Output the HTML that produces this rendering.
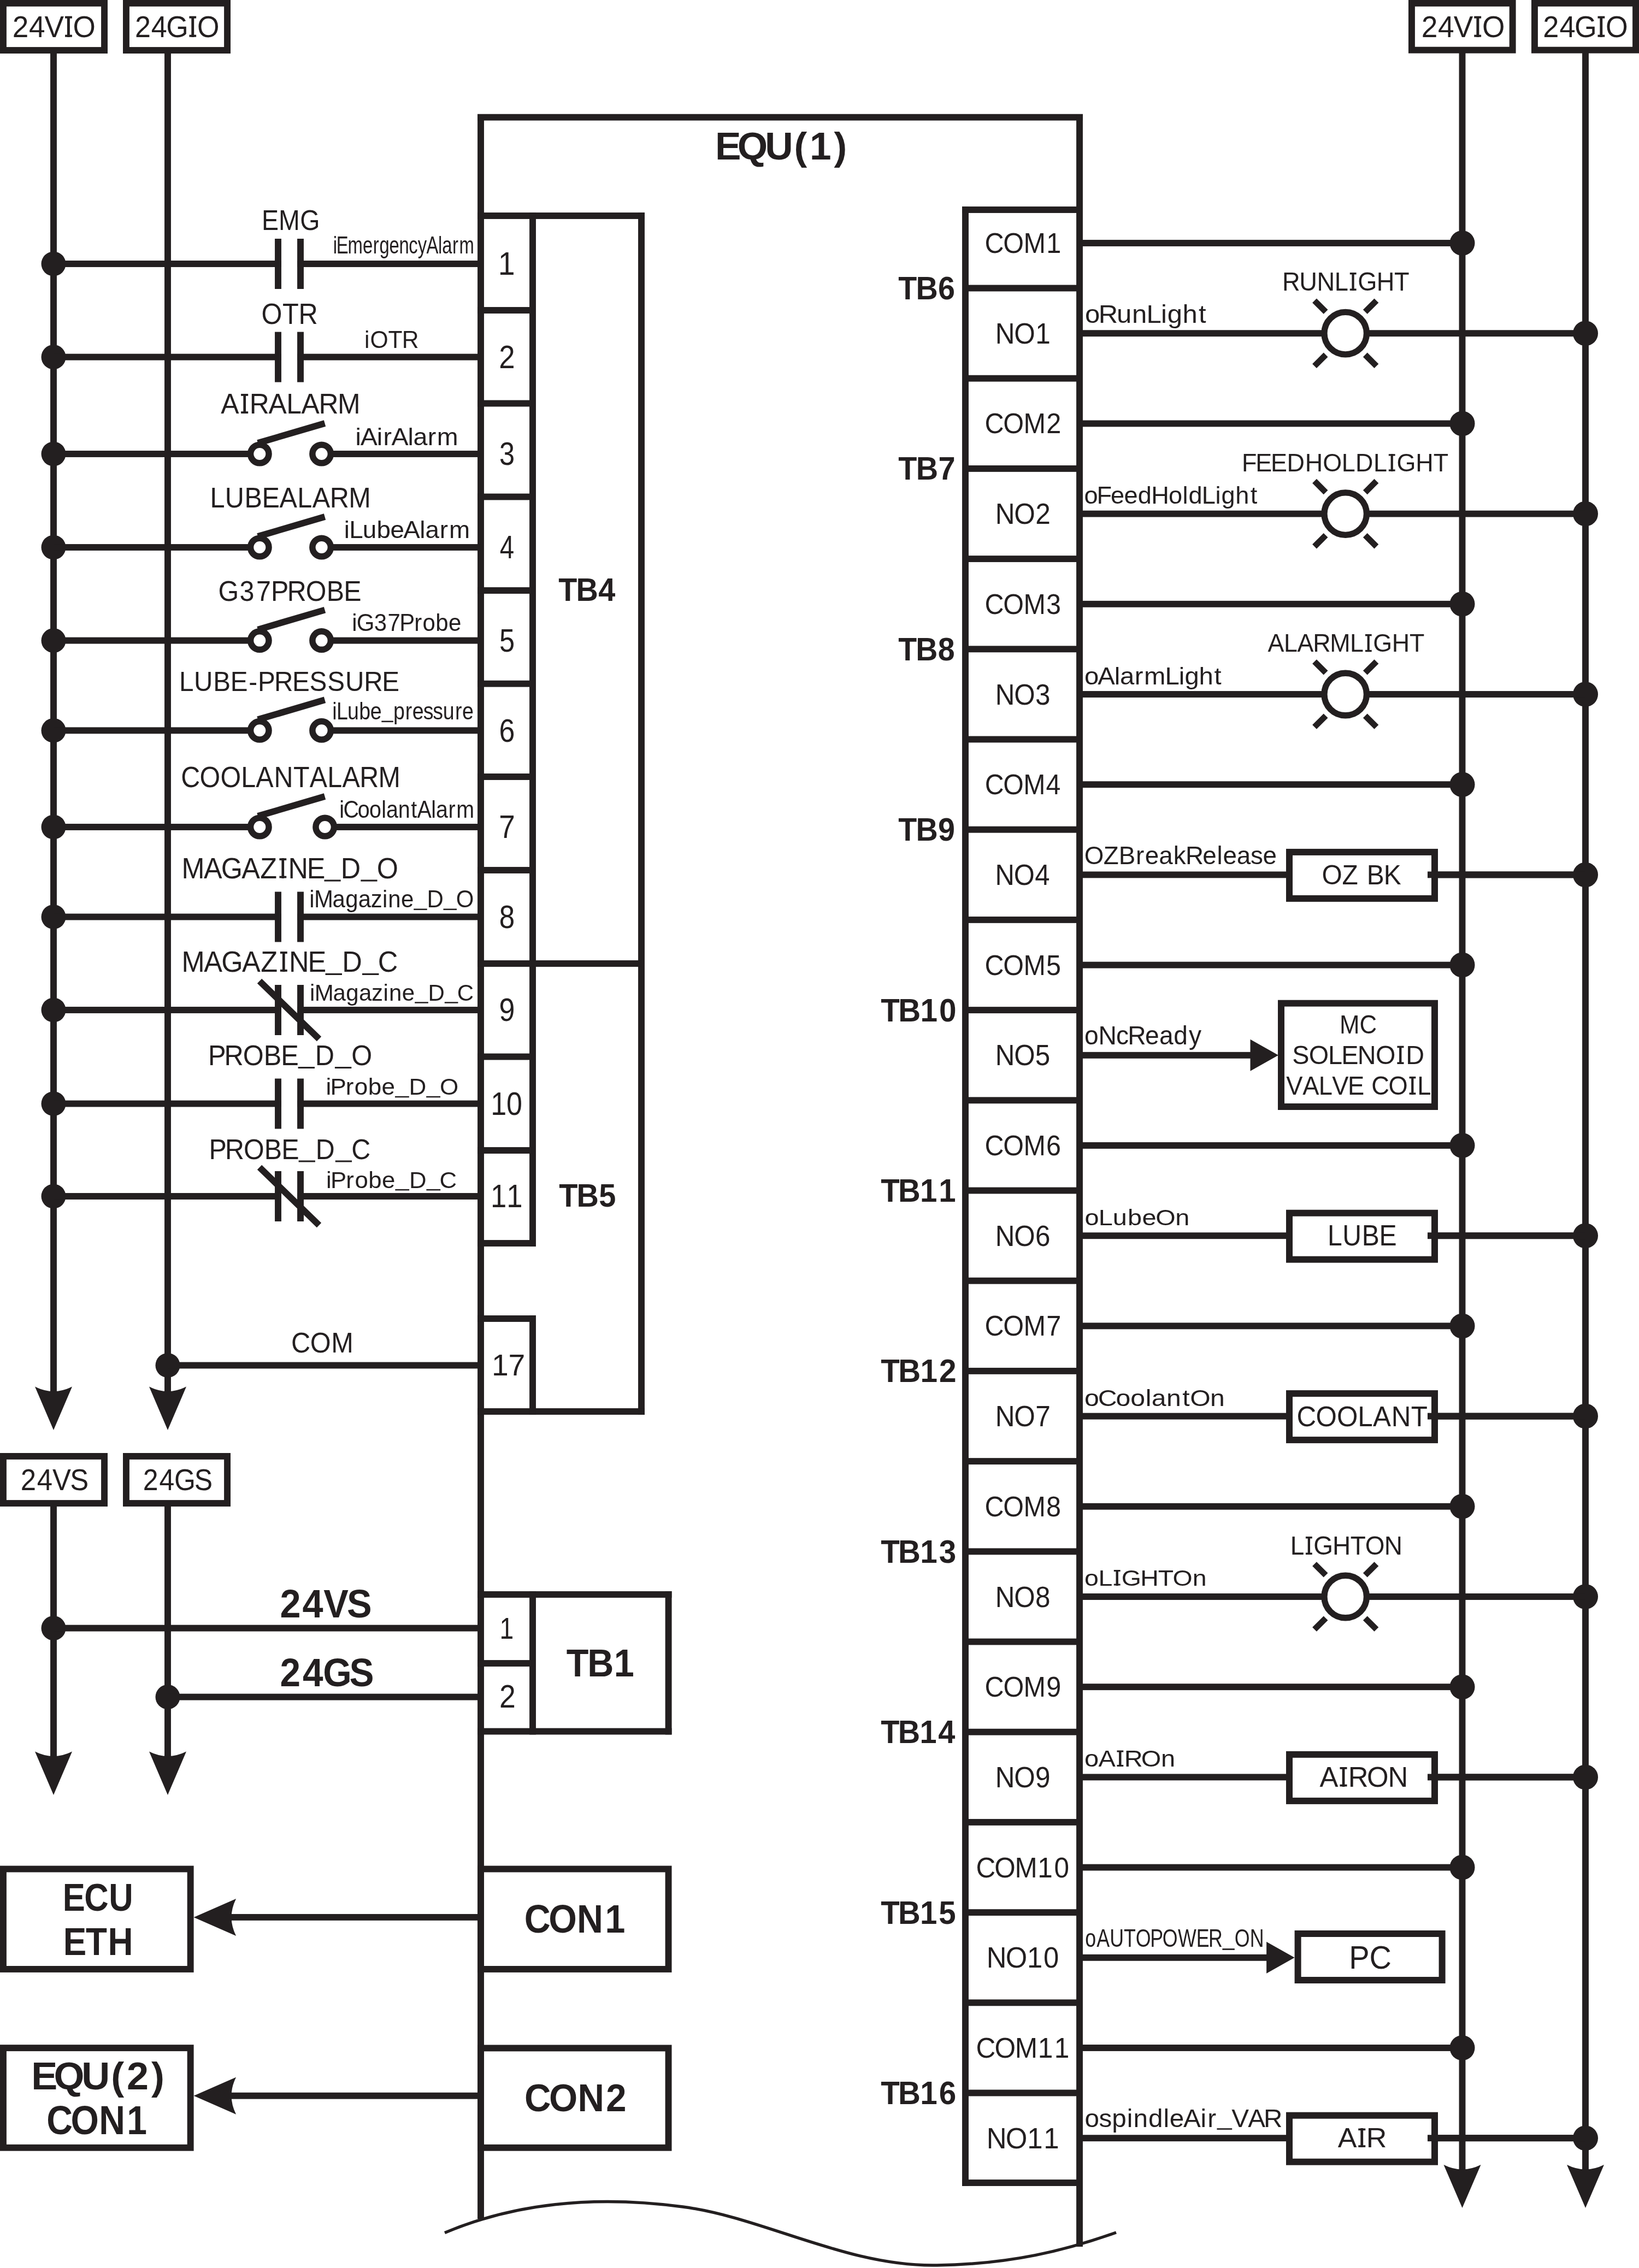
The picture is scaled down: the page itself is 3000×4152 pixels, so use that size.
<!DOCTYPE html>
<html><head><meta charset="utf-8"><style>
html,body{margin:0;padding:0;background:#fff;}
svg{display:block;will-change:transform;}
text{font-family:"Liberation Sans",sans-serif;fill:#231f20;-webkit-font-smoothing:antialiased;}
</style></head><body>
<svg width="3000" height="4152" viewBox="0 0 3000 4152" fill="#231f20">
<rect width="3000" height="4152" fill="#fff"/>
<rect x="5.95" y="5.95" width="185.10" height="86.10" fill="none" stroke="#231f20" stroke-width="11.9"/>
<rect x="230.95" y="5.95" width="185.10" height="86.10" fill="none" stroke="#231f20" stroke-width="11.9"/>
<text transform="translate(0,67.70) scale(0.9601,1)" x="23.58 55.14 84.82 123.01 139.14" font-size="55.38">24VIO</text>
<rect x="119.05" y="63.66" width="12.86" height="4.04"/>
<rect x="119.05" y="29.60" width="12.86" height="4.04"/>
<text transform="translate(0,67.70) scale(0.9403,1)" x="262.58 294.46 323.68 367.49 383.92" font-size="55.38">24GIO</text>
<rect x="346.41" y="63.66" width="12.72" height="4.04"/>
<rect x="346.41" y="29.60" width="12.72" height="4.04"/>
<rect x="92.05" y="98.00" width="11.90" height="2482.00"/>
<rect x="301.05" y="98.00" width="11.90" height="2482.00"/>
<path d="M98.00,2618.00 L64.00,2538.60 Q98.00,2555.60 132.00,2538.60 Z"/>
<path d="M307.00,2618.00 L273.00,2538.60 Q307.00,2555.60 341.00,2538.60 Z"/>
<rect x="874.05" y="209.00" width="11.90" height="3853.00"/>
<rect x="874.00" y="208.75" width="1108.00" height="11.90"/>
<rect x="1970.05" y="209.00" width="11.90" height="3904.00"/>
<text transform="translate(0,291.80) scale(1.0042,1)" x="1303.55 1344.11 1394.31 1447.44 1475.91 1520.22" font-size="70.93" font-weight="bold">EQU(1)</text>
<rect x="874.00" y="389.05" width="305.95" height="11.90"/>
<rect x="1168.05" y="389.00" width="11.90" height="2201.00"/>
<rect x="874.00" y="2578.05" width="305.95" height="11.90"/>
<rect x="969.05" y="389.00" width="11.90" height="1893.00"/>
<rect x="969.05" y="2408.00" width="11.90" height="182.00"/>
<rect x="874.00" y="562.05" width="101.00" height="11.90"/>
<rect x="874.00" y="732.55" width="101.00" height="11.90"/>
<rect x="874.00" y="903.55" width="101.00" height="11.90"/>
<rect x="874.00" y="1075.05" width="101.00" height="11.90"/>
<rect x="874.00" y="1245.75" width="101.00" height="11.90"/>
<rect x="874.00" y="1416.05" width="101.00" height="11.90"/>
<rect x="874.00" y="1587.05" width="101.00" height="11.90"/>
<rect x="874.00" y="1928.55" width="101.00" height="11.90"/>
<rect x="874.00" y="2100.05" width="101.00" height="11.90"/>
<rect x="874.00" y="2270.05" width="101.00" height="11.90"/>
<rect x="874.00" y="2408.05" width="101.00" height="11.90"/>
<rect x="874.00" y="1758.05" width="300.00" height="11.90"/>
<text transform="translate(0,1099.90) scale(0.9390,1)" x="1088.66 1122.98 1166.29" font-size="59.45" font-weight="bold">TB4</text>
<text transform="translate(0,2209.00) scale(0.9390,1)" x="1089.64 1124.04 1167.47" font-size="59.59" font-weight="bold">TB5</text>
<circle cx="98.00" cy="483.00" r="22.5"/>
<rect x="98.00" y="477.05" width="417.00" height="11.90"/>
<rect x="544.00" y="477.05" width="336.00" height="11.90"/>
<rect x="503.05" y="437.00" width="11.90" height="92.00"/>
<rect x="544.05" y="437.00" width="11.90" height="92.00"/>
<text transform="translate(0,421.00) scale(0.8866,1)" x="540.33 575.15 619.57" font-size="52.47">EMG</text>
<text transform="translate(0,463.80) scale(0.7333,1)" x="831.45 839.62 868.03 905.63 931.09 947.11 971.51 996.10 1020.46 1042.73 1064.53 1093.66 1103.69 1129.26 1146.09" font-size="44.77">iEmergencyAlarm</text>
<text transform="translate(0,503.30) scale(0.9403,1)" x="969.68" font-size="59.01">1</text>
<circle cx="98.00" cy="653.60" r="22.5"/>
<rect x="98.00" y="647.65" width="417.00" height="11.90"/>
<rect x="544.00" y="647.65" width="336.00" height="11.90"/>
<rect x="503.05" y="607.60" width="11.90" height="92.00"/>
<rect x="544.05" y="607.60" width="11.90" height="92.00"/>
<text transform="translate(0,592.50) scale(0.8952,1)" x="534.48 577.50 610.41" font-size="54.51">OTR</text>
<text transform="translate(0,636.80) scale(0.9534,1)" x="699.71 710.63 745.26 771.63" font-size="44.77">iOTR</text>
<text transform="translate(0,673.90) scale(0.8938,1)" x="1021.84" font-size="59.01">2</text>
<circle cx="98.00" cy="831.00" r="22.5"/>
<rect x="98.00" y="825.05" width="357.00" height="11.90"/>
<rect x="606.60" y="825.05" width="273.40" height="11.90"/>
<circle cx="475.30" cy="831.00" r="16.75" fill="none" stroke="#231f20" stroke-width="11.5"/>
<circle cx="588.60" cy="831.00" r="16.75" fill="none" stroke="#231f20" stroke-width="11.5"/>
<line x1="472.00" y1="811.00" x2="594.50" y2="775.00" stroke="#231f20" stroke-width="11.9"/>
<text transform="translate(0,757.00) scale(0.9527,1)" x="424.36 462.63 479.36 515.85 550.29 578.93 612.53 648.72" font-size="52.33">AIRALARM</text>
<rect x="441.11" y="753.18" width="13.07" height="3.82"/>
<rect x="441.11" y="721.00" width="13.07" height="3.82"/>
<text transform="translate(0,815.00) scale(1.0344,1)" x="628.92 637.85 666.83 678.20 692.66 721.64 731.42 756.79 773.23" font-size="45.06">iAirAlarm</text>
<text transform="translate(0,851.30) scale(0.8562,1)" x="1067.62" font-size="59.01">3</text>
<circle cx="98.00" cy="1002.00" r="22.5"/>
<rect x="98.00" y="996.05" width="357.00" height="11.90"/>
<rect x="606.60" y="996.05" width="273.40" height="11.90"/>
<circle cx="475.30" cy="1002.00" r="16.75" fill="none" stroke="#231f20" stroke-width="11.5"/>
<circle cx="588.60" cy="1002.00" r="16.75" fill="none" stroke="#231f20" stroke-width="11.5"/>
<line x1="472.00" y1="982.00" x2="594.50" y2="946.00" stroke="#231f20" stroke-width="11.9"/>
<text transform="translate(0,929.20) scale(0.9238,1)" x="416.32 445.80 484.48 519.08 553.63 589.13 618.80 653.55 691.02" font-size="52.62">LUBEALARM</text>
<text transform="translate(0,985.00) scale(1.0167,1)" x="619.53 628.79 652.83 678.20 702.82 726.18 755.55 765.70 791.49 808.50" font-size="45.06">iLubeAlarm</text>
<text transform="translate(0,1022.30) scale(0.8053,1)" x="1136.07" font-size="59.01">4</text>
<circle cx="98.00" cy="1172.60" r="22.5"/>
<rect x="98.00" y="1166.65" width="357.00" height="11.90"/>
<rect x="606.60" y="1166.65" width="273.40" height="11.90"/>
<circle cx="475.30" cy="1172.60" r="16.75" fill="none" stroke="#231f20" stroke-width="11.5"/>
<circle cx="588.60" cy="1172.60" r="16.75" fill="none" stroke="#231f20" stroke-width="11.5"/>
<line x1="472.00" y1="1152.60" x2="594.50" y2="1116.60" stroke="#231f20" stroke-width="11.9"/>
<text transform="translate(0,1100.00) scale(0.9401,1)" x="424.85 466.46 498.83 527.51 559.13 595.41 635.75 669.29" font-size="51.45">G37PROBE</text>
<text transform="translate(0,1155.40) scale(0.9500,1)" x="678.05 687.17 720.86 746.81 769.64 798.04 814.20 839.30 864.17" font-size="44.19">iG37Probe</text>
<text transform="translate(0,1192.90) scale(0.8562,1)" x="1067.47" font-size="59.01">5</text>
<circle cx="98.00" cy="1337.30" r="22.5"/>
<rect x="98.00" y="1331.35" width="357.00" height="11.90"/>
<rect x="606.60" y="1331.35" width="273.40" height="11.90"/>
<circle cx="475.30" cy="1337.30" r="16.75" fill="none" stroke="#231f20" stroke-width="11.5"/>
<circle cx="588.60" cy="1337.30" r="16.75" fill="none" stroke="#231f20" stroke-width="11.5"/>
<line x1="472.00" y1="1317.30" x2="594.50" y2="1281.30" stroke="#231f20" stroke-width="11.9"/>
<text transform="translate(0,1265.00) scale(0.9362,1)" x="350.43 379.20 416.89 450.63 486.33 504.29 536.11 571.48 605.16 640.17 675.01 711.53 746.89" font-size="50.87">LUBE-PRESSURE</text>
<text transform="translate(0,1317.00) scale(0.8467,1)" x="718.30 727.46 751.19 776.24 800.55 825.11 850.22 876.10 891.55 915.07 935.85 957.62 983.70 999.15" font-size="44.33">iLube pressure</text>
<rect x="698.31" y="1319.52" width="21.48" height="2.60"/>
<text transform="translate(0,1357.60) scale(0.8794,1)" x="1038.73" font-size="59.01">6</text>
<circle cx="98.00" cy="1514.00" r="22.5"/>
<rect x="98.00" y="1508.05" width="357.00" height="11.90"/>
<rect x="612.70" y="1508.05" width="267.30" height="11.90"/>
<circle cx="475.30" cy="1514.00" r="16.75" fill="none" stroke="#231f20" stroke-width="11.5"/>
<circle cx="594.70" cy="1514.00" r="16.75" fill="none" stroke="#231f20" stroke-width="11.5"/>
<line x1="472.00" y1="1494.00" x2="594.50" y2="1458.00" stroke="#231f20" stroke-width="11.9"/>
<text transform="translate(0,1441.00) scale(0.9082,1)" x="364.74 402.58 444.25 485.75 515.66 552.10 591.19 624.11 659.92 689.83 724.87 762.64" font-size="53.34">COOLANTALARM</text>
<text transform="translate(0,1496.50) scale(0.8730,1)" x="711.69 719.96 750.00 774.46 799.75 809.83 834.69 861.66 874.58 903.93 914.01 939.76 956.66" font-size="45.20">iCoolantAlarm</text>
<text transform="translate(0,1534.30) scale(0.8988,1)" x="1016.06" font-size="59.01">7</text>
<circle cx="98.00" cy="1678.50" r="22.5"/>
<rect x="98.00" y="1672.55" width="417.00" height="11.90"/>
<rect x="544.00" y="1672.55" width="336.00" height="11.90"/>
<rect x="503.05" y="1632.50" width="11.90" height="92.00"/>
<rect x="544.05" y="1632.50" width="11.90" height="92.00"/>
<text transform="translate(0,1607.50) scale(0.9544,1)" x="348.33 390.73 424.13 463.38 498.95 535.27 552.65 588.47 622.96 653.61 693.02 722.60" font-size="52.76">MAGAZINE D O</text>
<rect x="593.43" y="1610.50" width="30.22" height="3.10"/>
<rect x="660.30" y="1610.50" width="30.22" height="3.10"/>
<rect x="511.42" y="1603.65" width="12.83" height="3.85"/>
<rect x="511.42" y="1571.20" width="12.83" height="3.85"/>
<text transform="translate(0,1661.00) scale(0.9621,1)" x="588.47 597.54 632.52 657.05 681.59 705.38 727.45 738.35 762.98 787.67 812.26 844.08 867.76" font-size="43.60">iMagazine D O</text>
<rect x="757.22" y="1663.48" width="24.53" height="2.56"/>
<rect x="811.49" y="1663.48" width="24.53" height="2.56"/>
<text transform="translate(0,1698.80) scale(0.8653,1)" x="1056.06" font-size="59.01">8</text>
<circle cx="98.00" cy="1849.00" r="22.5"/>
<rect x="98.00" y="1843.05" width="417.00" height="11.90"/>
<rect x="544.00" y="1843.05" width="336.00" height="11.90"/>
<rect x="503.05" y="1803.00" width="11.90" height="92.00"/>
<rect x="544.05" y="1803.00" width="11.90" height="92.00"/>
<line x1="475.00" y1="1796.00" x2="584.00" y2="1902.00" stroke="#231f20" stroke-width="11.9"/>
<text transform="translate(0,1778.80) scale(0.9458,1)" x="351.47 394.59 428.59 468.51 504.69 541.62 559.35 595.78 630.87 662.07 702.15 731.51" font-size="53.49">MAGAZINE D C</text>
<rect x="595.52" y="1781.84" width="30.48" height="3.14"/>
<rect x="662.94" y="1781.84" width="30.48" height="3.14"/>
<rect x="512.82" y="1774.90" width="12.94" height="3.90"/>
<rect x="512.82" y="1742.00" width="12.94" height="3.90"/>
<text transform="translate(0,1831.80) scale(0.9908,1)" x="572.20 581.11 615.26 639.22 663.19 686.43 707.97 718.64 742.71 766.83 790.86 821.93 844.53" font-size="42.44">iMagazine D C</text>
<rect x="759.17" y="1834.21" width="24.68" height="2.49"/>
<rect x="813.76" y="1834.21" width="24.68" height="2.49"/>
<text transform="translate(0,1869.30) scale(0.8794,1)" x="1038.88" font-size="59.01">9</text>
<circle cx="98.00" cy="2020.50" r="22.5"/>
<rect x="98.00" y="2014.55" width="417.00" height="11.90"/>
<rect x="544.00" y="2014.55" width="336.00" height="11.90"/>
<rect x="503.05" y="1974.50" width="11.90" height="92.00"/>
<rect x="544.05" y="1974.50" width="11.90" height="92.00"/>
<text transform="translate(0,1950.10) scale(0.9456,1)" x="402.80 434.22 470.29 510.42 543.77 578.72 610.04 649.93 680.21" font-size="51.60">PROBE D O</text>
<rect x="545.56" y="1953.03" width="30.43" height="3.03"/>
<rect x="612.89" y="1953.03" width="30.43" height="3.03"/>
<text transform="translate(0,2004.30) scale(1.0336,1)" x="577.06 584.83 612.19 627.77 651.95 675.92 700.14 724.27 755.47 778.72" font-size="42.59">iProbe D O</text>
<rect x="722.96" y="2006.72" width="25.85" height="2.50"/>
<rect x="780.15" y="2006.72" width="25.85" height="2.50"/>
<text transform="translate(0,2040.80) scale(0.8824,1)" x="1017.84 1050.66" font-size="59.01">10</text>
<circle cx="98.00" cy="2190.00" r="22.5"/>
<rect x="98.00" y="2184.05" width="417.00" height="11.90"/>
<rect x="544.00" y="2184.05" width="336.00" height="11.90"/>
<rect x="503.05" y="2144.00" width="11.90" height="92.00"/>
<rect x="544.05" y="2144.00" width="11.90" height="92.00"/>
<line x1="475.00" y1="2137.00" x2="584.00" y2="2243.00" stroke="#231f20" stroke-width="11.9"/>
<text transform="translate(0,2121.50) scale(0.9381,1)" x="407.62 439.21 475.47 515.80 549.33 584.44 615.95 656.02 685.67" font-size="51.60">PROBE D C</text>
<rect x="546.58" y="2124.43" width="30.35" height="3.03"/>
<rect x="613.73" y="2124.43" width="30.35" height="3.03"/>
<text transform="translate(0,2174.50) scale(1.0196,1)" x="585.56 593.47 621.12 636.90 661.37 685.62 710.13 734.55 766.10 789.08" font-size="42.88">iProbe D C</text>
<rect x="723.32" y="2176.93" width="25.80" height="2.52"/>
<rect x="780.39" y="2176.93" width="25.80" height="2.52"/>
<text transform="translate(0,2210.30) scale(0.8913,1)" x="1007.60 1040.42" font-size="59.01">11</text>
<circle cx="307.00" cy="2499.50" r="22.5"/>
<rect x="307.00" y="2493.55" width="573.00" height="11.90"/>
<text transform="translate(0,2476.00) scale(0.9307,1)" x="572.68 610.16 651.45" font-size="52.33">COM</text>
<text transform="translate(0,2518.00) scale(1.0006,1)" x="899.34 930.06" font-size="55.23">17</text>
<rect x="5.95" y="2665.95" width="185.10" height="86.10" fill="none" stroke="#231f20" stroke-width="11.9"/>
<rect x="230.95" y="2665.95" width="185.10" height="86.10" fill="none" stroke="#231f20" stroke-width="11.9"/>
<text transform="translate(0,2727.70) scale(0.9145,1)" x="41.29 74.09 105.05 140.34" font-size="55.67">24VS</text>
<text transform="translate(0,2727.70) scale(0.8968,1)" x="291.94 325.09 355.69 396.80" font-size="55.67">24GS</text>
<rect x="92.05" y="2758.00" width="11.90" height="487.00"/>
<rect x="301.05" y="2758.00" width="11.90" height="487.00"/>
<path d="M98.00,3286.00 L64.00,3206.60 Q98.00,3223.60 132.00,3206.60 Z"/>
<path d="M307.00,3286.00 L273.00,3206.60 Q307.00,3223.60 341.00,3206.60 Z"/>
<rect x="874.00" y="2913.05" width="355.50" height="11.90"/>
<rect x="1217.65" y="2913.00" width="11.90" height="262.50"/>
<rect x="874.00" y="3163.65" width="355.50" height="11.90"/>
<rect x="969.05" y="2913.00" width="11.90" height="262.50"/>
<rect x="874.00" y="3039.05" width="101.00" height="11.90"/>
<circle cx="98.00" cy="2980.60" r="22.5"/>
<rect x="98.00" y="2974.65" width="782.00" height="11.90"/>
<circle cx="307.00" cy="3106.60" r="22.5"/>
<rect x="307.00" y="3100.65" width="573.00" height="11.90"/>
<text transform="translate(0,2961.00) scale(0.9570,1)" x="535.43 578.38 618.97 663.49" font-size="71.51" font-weight="bold">24VS</text>
<text transform="translate(0,3087.00) scale(0.9420,1)" x="543.97 588.24 627.68 679.00" font-size="71.66" font-weight="bold">24GS</text>
<text transform="translate(0,3069.00) scale(0.9353,1)" x="1108.59 1149.71 1201.60" font-size="71.22" font-weight="bold">TB1</text>
<text transform="translate(0,2999.60) scale(0.8461,1)" x="1080.82" font-size="54.65">1</text>
<text transform="translate(0,3126.20) scale(0.9043,1)" x="1010.65" font-size="59.30">2</text>
<rect x="5.95" y="3421.55" width="342.70" height="183.40" fill="none" stroke="#231f20" stroke-width="11.9"/>
<rect x="879.95" y="3421.55" width="343.60" height="183.40" fill="none" stroke="#231f20" stroke-width="11.9"/>
<rect x="5.95" y="3749.15" width="342.70" height="182.60" fill="none" stroke="#231f20" stroke-width="11.9"/>
<rect x="879.95" y="3749.45" width="343.60" height="182.30" fill="none" stroke="#231f20" stroke-width="11.9"/>
<path d="M354.60,3509.90 L432.10,3475.90 Q415.10,3509.90 432.10,3543.90 Z"/>
<rect x="420.00" y="3503.95" width="460.00" height="11.90"/>
<path d="M354.60,3836.70 L432.10,3802.70 Q415.10,3836.70 432.10,3870.70 Z"/>
<rect x="420.00" y="3830.75" width="460.00" height="11.90"/>
<text transform="translate(0,3498.00) scale(0.8646,1)" x="132.83 178.54 230.58" font-size="71.22" font-weight="bold">ECU</text>
<text transform="translate(0,3578.60) scale(0.9025,1)" x="128.19 173.96 218.76" font-size="70.64" font-weight="bold">ETH</text>
<text transform="translate(0,3538.10) scale(0.9108,1)" x="1053.84 1102.65 1159.49 1215.86" font-size="72.82" font-weight="bold">CON1</text>
<text transform="translate(0,3825.00) scale(1.0096,1)" x="56.80 97.52 147.93 201.27 229.87 274.35" font-size="71.22" font-weight="bold">EQU(2)</text>
<text transform="translate(0,3906.70) scale(0.9006,1)" x="94.67 143.87 201.16 257.98" font-size="73.40" font-weight="bold">CON1</text>
<text transform="translate(0,3865.00) scale(0.9457,1)" x="1015.18 1062.72 1118.09 1172.99" font-size="70.93" font-weight="bold">CON2</text>
<path d="M814,4087.5 C950,4030 1100,4020 1250,4040 C1400,4060 1550,4150 1715,4147 C1850,4145 1950,4120 2043,4087" fill="none" stroke="#231f20" stroke-width="5.5"/>
<rect x="2583.95" y="5.95" width="184.70" height="85.70" fill="none" stroke="#231f20" stroke-width="11.9"/>
<rect x="2808.95" y="5.95" width="185.10" height="85.70" fill="none" stroke="#231f20" stroke-width="11.9"/>
<text transform="translate(0,67.70) scale(0.9621,1)" x="2704.23 2735.79 2765.47 2803.66 2819.79" font-size="55.38">24VIO</text>
<rect x="2698.24" y="63.66" width="12.89" height="4.04"/>
<rect x="2698.24" y="29.60" width="12.89" height="4.04"/>
<text transform="translate(0,67.70) scale(0.9459,1)" x="2985.82 3017.70 3046.92 3090.73 3107.16" font-size="55.38">24GIO</text>
<rect x="2924.49" y="63.66" width="12.80" height="4.04"/>
<rect x="2924.49" y="29.60" width="12.80" height="4.04"/>
<rect x="2670.55" y="97.00" width="11.90" height="3903.00"/>
<rect x="2896.05" y="97.00" width="11.90" height="3903.00"/>
<path d="M2676.50,4042.00 L2642.50,3963.00 Q2676.50,3980.00 2710.50,3963.00 Z"/>
<path d="M2902.00,4042.00 L2868.00,3963.00 Q2902.00,3980.00 2936.00,3963.00 Z"/>
<rect x="1761.05" y="378.05" width="214.95" height="11.90"/>
<rect x="1761.05" y="378.00" width="11.90" height="3624.00"/>
<rect x="1761.05" y="3990.05" width="214.95" height="11.90"/>
<rect x="1767.00" y="521.55" width="209.00" height="11.90"/>
<rect x="1767.00" y="686.75" width="209.00" height="11.90"/>
<rect x="1767.00" y="851.95" width="209.00" height="11.90"/>
<rect x="1767.00" y="1017.15" width="209.00" height="11.90"/>
<rect x="1767.00" y="1182.35" width="209.00" height="11.90"/>
<rect x="1767.00" y="1347.55" width="209.00" height="11.90"/>
<rect x="1767.00" y="1512.75" width="209.00" height="11.90"/>
<rect x="1767.00" y="1677.95" width="209.00" height="11.90"/>
<rect x="1767.00" y="1843.15" width="209.00" height="11.90"/>
<rect x="1767.00" y="2008.35" width="209.00" height="11.90"/>
<rect x="1767.00" y="2173.55" width="209.00" height="11.90"/>
<rect x="1767.00" y="2338.75" width="209.00" height="11.90"/>
<rect x="1767.00" y="2503.95" width="209.00" height="11.90"/>
<rect x="1767.00" y="2669.15" width="209.00" height="11.90"/>
<rect x="1767.00" y="2834.35" width="209.00" height="11.90"/>
<rect x="1767.00" y="2999.55" width="209.00" height="11.90"/>
<rect x="1767.00" y="3164.75" width="209.00" height="11.90"/>
<rect x="1767.00" y="3329.95" width="209.00" height="11.90"/>
<rect x="1767.00" y="3495.15" width="209.00" height="11.90"/>
<rect x="1767.00" y="3660.35" width="209.00" height="11.90"/>
<rect x="1767.00" y="3825.55" width="209.00" height="11.90"/>
<rect x="1976.00" y="439.05" width="700.50" height="11.90"/>
<circle cx="2676.50" cy="445.00" r="23"/>
<text transform="translate(0,463.00) scale(0.9282,1)" x="1941.99 1978.41 2018.54 2063.50" font-size="52.33">COM1</text>
<text transform="translate(0,628.70) scale(0.9206,1)" x="1978.79 2016.39 2058.59" font-size="53.78">NO1</text>
<text transform="translate(0,548.00) scale(0.9346,1)" x="1759.40 1793.80 1837.23" font-size="59.59" font-weight="bold">TB6</text>
<circle cx="2902.00" cy="610.20" r="23"/>
<text transform="translate(0,590.60) scale(1.0501,1)" x="1891.17 1914.72 1946.57 1973.24 1998.31 2023.60 2034.71 2061.17 2089.29" font-size="46.66">oRunLight</text>
<rect x="1976.00" y="604.25" width="446.70" height="11.90"/>
<rect x="2502.70" y="604.25" width="399.30" height="11.90"/>
<circle cx="2462.70" cy="610.20" r="38.75" fill="none" stroke="#231f20" stroke-width="11.3"/>
<line x1="2406.00" y1="550.30" x2="2426.60" y2="570.90" stroke="#231f20" stroke-width="11"/>
<line x1="2519.40" y1="550.30" x2="2498.80" y2="570.90" stroke="#231f20" stroke-width="11"/>
<line x1="2406.00" y1="670.10" x2="2426.60" y2="649.50" stroke="#231f20" stroke-width="11"/>
<line x1="2519.40" y1="670.10" x2="2498.80" y2="649.50" stroke="#231f20" stroke-width="11"/>
<text transform="translate(0,531.90) scale(0.9457,1)" x="2481.79 2514.73 2548.89 2582.98 2612.21 2627.86 2664.41 2698.62" font-size="47.82">RUNLIGHT</text>
<rect x="2470.79" y="528.41" width="11.79" height="3.49"/>
<rect x="2470.79" y="499.00" width="11.79" height="3.49"/>
<rect x="1976.00" y="769.45" width="700.50" height="11.90"/>
<circle cx="2676.50" cy="775.40" r="23"/>
<text transform="translate(0,793.40) scale(0.9290,1)" x="1940.25 1976.66 2016.79 2061.75" font-size="52.33">COM2</text>
<text transform="translate(0,959.10) scale(0.9218,1)" x="1976.20 2013.79 2055.99" font-size="53.78">NO2</text>
<text transform="translate(0,878.40) scale(0.9385,1)" x="1752.12 1786.52 1829.95" font-size="59.59" font-weight="bold">TB7</text>
<circle cx="2902.00" cy="940.60" r="23"/>
<text transform="translate(0,922.00) scale(1.0111,1)" x="1962.73 1985.59 2010.67 2034.95 2059.78 2084.07 2115.44 2140.84 2151.66 2175.70 2200.08 2210.90 2236.49 2263.62" font-size="44.62">oFeedHoldLight</text>
<rect x="1976.00" y="934.65" width="446.70" height="11.90"/>
<rect x="2502.70" y="934.65" width="399.30" height="11.90"/>
<circle cx="2462.70" cy="940.60" r="38.75" fill="none" stroke="#231f20" stroke-width="11.3"/>
<line x1="2406.00" y1="880.70" x2="2426.60" y2="901.30" stroke="#231f20" stroke-width="11"/>
<line x1="2519.40" y1="880.70" x2="2498.80" y2="901.30" stroke="#231f20" stroke-width="11"/>
<line x1="2406.00" y1="1000.50" x2="2426.60" y2="979.90" stroke="#231f20" stroke-width="11"/>
<line x1="2519.40" y1="1000.50" x2="2498.80" y2="979.90" stroke="#231f20" stroke-width="11"/>
<text transform="translate(0,862.70) scale(0.9807,1)" x="2317.81 2343.50 2371.74 2401.83 2435.83 2468.93 2504.03 2529.91 2563.38 2591.60 2606.88 2642.26 2675.35" font-size="45.78">FEEDHOLDLIGHT</text>
<rect x="2541.81" y="859.36" width="11.83" height="3.34"/>
<rect x="2541.81" y="831.20" width="11.83" height="3.34"/>
<rect x="1976.00" y="1099.85" width="700.50" height="11.90"/>
<circle cx="2676.50" cy="1105.80" r="23"/>
<text transform="translate(0,1123.80) scale(0.9265,1)" x="1945.49 1981.91 2022.03 2067.00" font-size="52.33">COM3</text>
<text transform="translate(0,1289.50) scale(0.9182,1)" x="1983.99 2021.58 2063.79" font-size="53.78">NO3</text>
<text transform="translate(0,1208.80) scale(0.9320,1)" x="1764.25 1798.66 1842.08" font-size="59.59" font-weight="bold">TB8</text>
<circle cx="2902.00" cy="1271.00" r="23"/>
<text transform="translate(0,1252.50) scale(1.0650,1)" x="1863.78 1886.58 1915.17 1924.89 1949.94 1966.24 2002.30 2025.96 2036.10 2060.67 2086.93" font-size="44.33">oAlarmLight</text>
<rect x="1976.00" y="1265.05" width="446.70" height="11.90"/>
<rect x="2502.70" y="1265.05" width="399.30" height="11.90"/>
<circle cx="2462.70" cy="1271.00" r="38.75" fill="none" stroke="#231f20" stroke-width="11.3"/>
<line x1="2406.00" y1="1211.10" x2="2426.60" y2="1231.70" stroke="#231f20" stroke-width="11"/>
<line x1="2519.40" y1="1211.10" x2="2498.80" y2="1231.70" stroke="#231f20" stroke-width="11"/>
<line x1="2406.00" y1="1330.90" x2="2426.60" y2="1310.30" stroke="#231f20" stroke-width="11"/>
<line x1="2519.40" y1="1330.90" x2="2498.80" y2="1310.30" stroke="#231f20" stroke-width="11"/>
<text transform="translate(0,1193.30) scale(0.9546,1)" x="2430.94 2461.82 2487.49 2517.62 2550.06 2588.46 2617.28 2632.80 2668.88 2702.64" font-size="46.95">ALARMLIGHT</text>
<rect x="2498.93" y="1189.87" width="11.75" height="3.43"/>
<rect x="2498.93" y="1161.00" width="11.75" height="3.43"/>
<rect x="1976.00" y="1430.25" width="700.50" height="11.90"/>
<circle cx="2676.50" cy="1436.20" r="23"/>
<text transform="translate(0,1454.20) scale(0.9216,1)" x="1955.99 1992.40 2032.53 2077.49" font-size="52.33">COM4</text>
<text transform="translate(0,1619.90) scale(0.9110,1)" x="1999.57 2037.17 2079.37" font-size="53.78">NO4</text>
<text transform="translate(0,1539.20) scale(0.9346,1)" x="1759.40 1793.80 1837.23" font-size="59.59" font-weight="bold">TB9</text>
<circle cx="2902.00" cy="1601.40" r="23"/>
<text transform="translate(0,1582.40) scale(0.9902,1)" x="2004.40 2039.87 2068.02 2099.65 2116.46 2142.17 2169.09 2191.60 2223.16 2249.57 2260.54 2286.25 2311.64 2334.34" font-size="46.22">OZBreakRelease</text>
<rect x="1976.00" y="1595.45" width="926.00" height="11.90"/>
<rect x="2360.00" y="1559.90" width="266.00" height="85.00" fill="#fff" stroke="#231f20" stroke-width="12"/>
<rect x="2613.00" y="1595.45" width="289.00" height="11.90"/>
<text transform="translate(0,1618.80) scale(0.9694,1)" x="2495.90 2534.10 2566.33 2580.74 2612.66" font-size="49.42">OZ BK</text>
<rect x="1976.00" y="1760.65" width="700.50" height="11.90"/>
<circle cx="2676.50" cy="1766.60" r="23"/>
<text transform="translate(0,1784.60) scale(0.9257,1)" x="1947.24 1983.66 2023.78 2068.74" font-size="52.33">COM5</text>
<text transform="translate(0,1950.30) scale(0.9170,1)" x="1986.59 2024.18 2066.38" font-size="53.78">NO5</text>
<text transform="translate(0,1869.60) scale(0.9515,1)" x="1694.56 1727.95 1770.35 1806.50" font-size="59.59" font-weight="bold">TB10</text>
<text transform="translate(0,1911.90) scale(0.9708,1)" x="2044.82 2071.04 2104.58 2126.38 2159.07 2185.73 2212.98 2241.37" font-size="47.53">oNcReady</text>
<rect x="1976.00" y="1925.85" width="324.00" height="11.90"/>
<path d="M2340.00,1931.80 L2288.50,1902.80 L2288.50,1960.80 Z"/>
<rect x="2345.00" y="1836.70" width="281.00" height="189.30" fill="none" stroke="#231f20" stroke-width="12"/>
<text transform="translate(0,1891.80) scale(0.9164,1)" x="2675.67 2715.50" font-size="47.82">MC</text>
<text transform="translate(0,1948.00) scale(0.9669,1)" x="2446.27 2477.74 2514.31 2539.24 2569.94 2604.23 2644.38 2661.30" font-size="48.40">SOLENOID</text>
<rect x="2557.38" y="1944.47" width="12.12" height="3.53"/>
<rect x="2557.38" y="1914.70" width="12.12" height="3.53"/>
<text transform="translate(0,2003.80) scale(0.9475,1)" x="2484.75 2516.27 2547.52 2573.46 2603.78 2635.76 2649.33 2682.22 2722.00 2737.88" font-size="47.82">VALVE COIL</text>
<rect x="2579.57" y="2000.31" width="11.79" height="3.49"/>
<rect x="2579.57" y="1970.90" width="11.79" height="3.49"/>
<rect x="1976.00" y="2091.05" width="700.50" height="11.90"/>
<circle cx="2676.50" cy="2097.00" r="23"/>
<text transform="translate(0,2115.00) scale(0.9265,1)" x="1945.49 1981.91 2022.03 2067.00" font-size="52.33">COM6</text>
<text transform="translate(0,2280.70) scale(0.9182,1)" x="1983.99 2021.58 2063.79" font-size="53.78">NO6</text>
<text transform="translate(0,2200.00) scale(0.9465,1)" x="1703.46 1736.85 1779.25 1815.40" font-size="59.59" font-weight="bold">TB11</text>
<circle cx="2902.00" cy="2262.20" r="23"/>
<text transform="translate(0,2242.70) scale(1.1424,1)" x="1738.05 1760.18 1782.81 1806.68 1829.86 1851.61 1883.14" font-size="40.99">oLubeOn</text>
<rect x="1976.00" y="2256.25" width="926.00" height="11.90"/>
<rect x="2360.00" y="2220.70" width="266.00" height="85.00" fill="#fff" stroke="#231f20" stroke-width="12"/>
<rect x="2613.00" y="2256.25" width="289.00" height="11.90"/>
<text transform="translate(0,2280.00) scale(0.9072,1)" x="2678.64 2708.50 2747.65 2782.68" font-size="53.05">LUBE</text>
<rect x="1976.00" y="2421.45" width="700.50" height="11.90"/>
<circle cx="2676.50" cy="2427.40" r="23"/>
<text transform="translate(0,2445.40) scale(0.9290,1)" x="1940.25 1976.66 2016.79 2061.75" font-size="52.33">COM7</text>
<text transform="translate(0,2611.10) scale(0.9218,1)" x="1976.20 2013.79 2055.99" font-size="53.78">NO7</text>
<text transform="translate(0,2530.40) scale(0.9515,1)" x="1694.56 1727.95 1770.35 1806.50" font-size="59.59" font-weight="bold">TB12</text>
<circle cx="2902.00" cy="2592.60" r="23"/>
<text transform="translate(0,2573.50) scale(1.1241,1)" x="1765.87 1787.87 1816.99 1840.78 1865.19 1875.17 1899.35 1925.43 1937.85 1970.42" font-size="42.88">oCoolantOn</text>
<rect x="1976.00" y="2586.65" width="926.00" height="11.90"/>
<rect x="2360.00" y="2551.10" width="266.00" height="85.00" fill="#fff" stroke="#231f20" stroke-width="12"/>
<rect x="2613.00" y="2586.65" width="289.00" height="11.90"/>
<text transform="translate(0,2611.00) scale(0.9443,1)" x="2513.42 2550.47 2591.29 2631.94 2661.23 2696.92 2735.20" font-size="52.33">COOLANT</text>
<rect x="1976.00" y="2751.85" width="700.50" height="11.90"/>
<circle cx="2676.50" cy="2757.80" r="23"/>
<text transform="translate(0,2775.80) scale(0.9265,1)" x="1945.49 1981.91 2022.03 2067.00" font-size="52.33">COM8</text>
<text transform="translate(0,2941.50) scale(0.9182,1)" x="1983.99 2021.58 2063.79" font-size="53.78">NO8</text>
<text transform="translate(0,2860.80) scale(0.9495,1)" x="1698.12 1731.51 1773.91 1810.06" font-size="59.59" font-weight="bold">TB13</text>
<circle cx="2902.00" cy="2923.00" r="23"/>
<text transform="translate(0,2902.50) scale(1.1222,1)" x="1768.83 1791.48 1816.27 1829.19 1860.03 1888.93 1912.77 1944.99" font-size="41.42">oLIGHTOn</text>
<rect x="2038.82" y="2899.48" width="11.79" height="3.02"/>
<rect x="2038.82" y="2874.00" width="11.79" height="3.02"/>
<rect x="1976.00" y="2917.05" width="446.70" height="11.90"/>
<rect x="2502.70" y="2917.05" width="399.30" height="11.90"/>
<circle cx="2462.70" cy="2923.00" r="38.75" fill="none" stroke="#231f20" stroke-width="11.3"/>
<line x1="2406.00" y1="2863.10" x2="2426.60" y2="2883.70" stroke="#231f20" stroke-width="11"/>
<line x1="2519.40" y1="2863.10" x2="2498.80" y2="2883.70" stroke="#231f20" stroke-width="11"/>
<line x1="2406.00" y1="2982.90" x2="2426.60" y2="2962.30" stroke="#231f20" stroke-width="11"/>
<line x1="2519.40" y1="2982.90" x2="2498.80" y2="2962.30" stroke="#231f20" stroke-width="11"/>
<text transform="translate(0,2846.00) scale(0.9589,1)" x="2462.92 2491.99 2507.39 2543.67 2577.64 2605.77 2642.26" font-size="47.97">LIGHTON</text>
<rect x="2389.93" y="2842.50" width="11.86" height="3.50"/>
<rect x="2389.93" y="2813.00" width="11.86" height="3.50"/>
<rect x="1976.00" y="3082.25" width="700.50" height="11.90"/>
<circle cx="2676.50" cy="3088.20" r="23"/>
<text transform="translate(0,3106.20) scale(0.9274,1)" x="1943.74 1980.16 2020.29 2065.25" font-size="52.33">COM9</text>
<text transform="translate(0,3271.90) scale(0.9194,1)" x="1981.39 2018.99 2061.19" font-size="53.78">NO9</text>
<text transform="translate(0,3191.20) scale(0.9377,1)" x="1719.48 1752.87 1795.27 1831.42" font-size="59.59" font-weight="bold">TB14</text>
<circle cx="2902.00" cy="3253.40" r="23"/>
<text transform="translate(0,3234.00) scale(1.0952,1)" x="1812.44 1835.79 1866.16 1878.87 1907.21 1940.26" font-size="42.88">oAIROn</text>
<rect x="2044.45" y="3230.87" width="11.79" height="3.13"/>
<rect x="2044.45" y="3204.50" width="11.79" height="3.13"/>
<rect x="1976.00" y="3247.45" width="926.00" height="11.90"/>
<rect x="2360.00" y="3211.90" width="266.00" height="85.00" fill="#fff" stroke="#231f20" stroke-width="12"/>
<rect x="2613.00" y="3247.45" width="289.00" height="11.90"/>
<text transform="translate(0,3270.50) scale(0.9856,1)" x="2450.69 2487.80 2503.68 2538.55 2577.60" font-size="51.60">AIRON</text>
<rect x="2452.49" y="3266.73" width="13.04" height="3.77"/>
<rect x="2452.49" y="3235.00" width="13.04" height="3.77"/>
<rect x="1976.00" y="3412.65" width="700.50" height="11.90"/>
<circle cx="2676.50" cy="3418.60" r="23"/>
<text transform="translate(0,3436.60) scale(0.9449,1)" x="1890.76 1926.49 1965.86 2010.14 2041.99" font-size="52.33">COM10</text>
<text transform="translate(0,3602.30) scale(0.9438,1)" x="1913.34 1950.26 1991.83 2023.66" font-size="53.78">NO10</text>
<text transform="translate(0,3521.60) scale(0.9465,1)" x="1703.46 1736.85 1779.25 1815.40" font-size="59.59" font-weight="bold">TB15</text>
<text transform="translate(0,3564.40) scale(0.7603,1)" x="2612.59 2639.94 2671.50 2705.40 2734.03 2768.89 2798.54 2835.84 2879.97 2909.47 2944.26 2972.06 3009.00" font-size="47.09">oAUTOPOWER ON</text>
<rect x="2237.40" y="3567.07" width="22.44" height="2.76"/>
<rect x="1976.00" y="3577.85" width="354.00" height="11.90"/>
<path d="M2369.60,3583.80 L2318.10,3554.80 L2318.10,3612.80 Z"/>
<rect x="2375.60" y="3540.00" width="264.00" height="85.00" fill="#fff" stroke="#231f20" stroke-width="12"/>
<text transform="translate(0,3604.00) scale(0.9403,1)" x="2626.02 2665.77" font-size="59.59">PC</text>
<rect x="1976.00" y="3743.05" width="700.50" height="11.90"/>
<circle cx="2676.50" cy="3749.00" r="23"/>
<text transform="translate(0,3767.00) scale(0.9477,1)" x="1885.13 1920.85 1960.22 2004.50 2036.35" font-size="52.33">COM11</text>
<text transform="translate(0,3932.70) scale(0.9476,1)" x="1905.63 1942.54 1984.12 2015.95" font-size="53.78">NO11</text>
<text transform="translate(0,3852.00) scale(0.9495,1)" x="1698.12 1731.51 1773.91 1810.06" font-size="59.59" font-weight="bold">TB16</text>
<circle cx="2902.00" cy="3914.20" r="23"/>
<text transform="translate(0,3893.60) scale(1.0498,1)" x="1891.33 1916.09 1938.63 1964.87 1976.18 2002.32 2028.56 2039.10 2063.23 2093.26 2105.34 2122.40 2147.37 2175.84 2203.29" font-size="45.35">ospindleAir VAR</text>
<rect x="2227.39" y="3896.17" width="27.79" height="2.66"/>
<rect x="1976.00" y="3908.25" width="926.00" height="11.90"/>
<rect x="2360.00" y="3872.70" width="266.00" height="85.00" fill="#fff" stroke="#231f20" stroke-width="12"/>
<rect x="2613.00" y="3908.25" width="289.00" height="11.90"/>
<text transform="translate(0,3930.90) scale(1.0410,1)" x="2352.29 2387.61 2402.34" font-size="50.00">AIR</text>
<rect x="2486.25" y="3927.25" width="13.02" height="3.65"/>
<rect x="2486.25" y="3896.50" width="13.02" height="3.65"/>
</svg>
</body></html>
